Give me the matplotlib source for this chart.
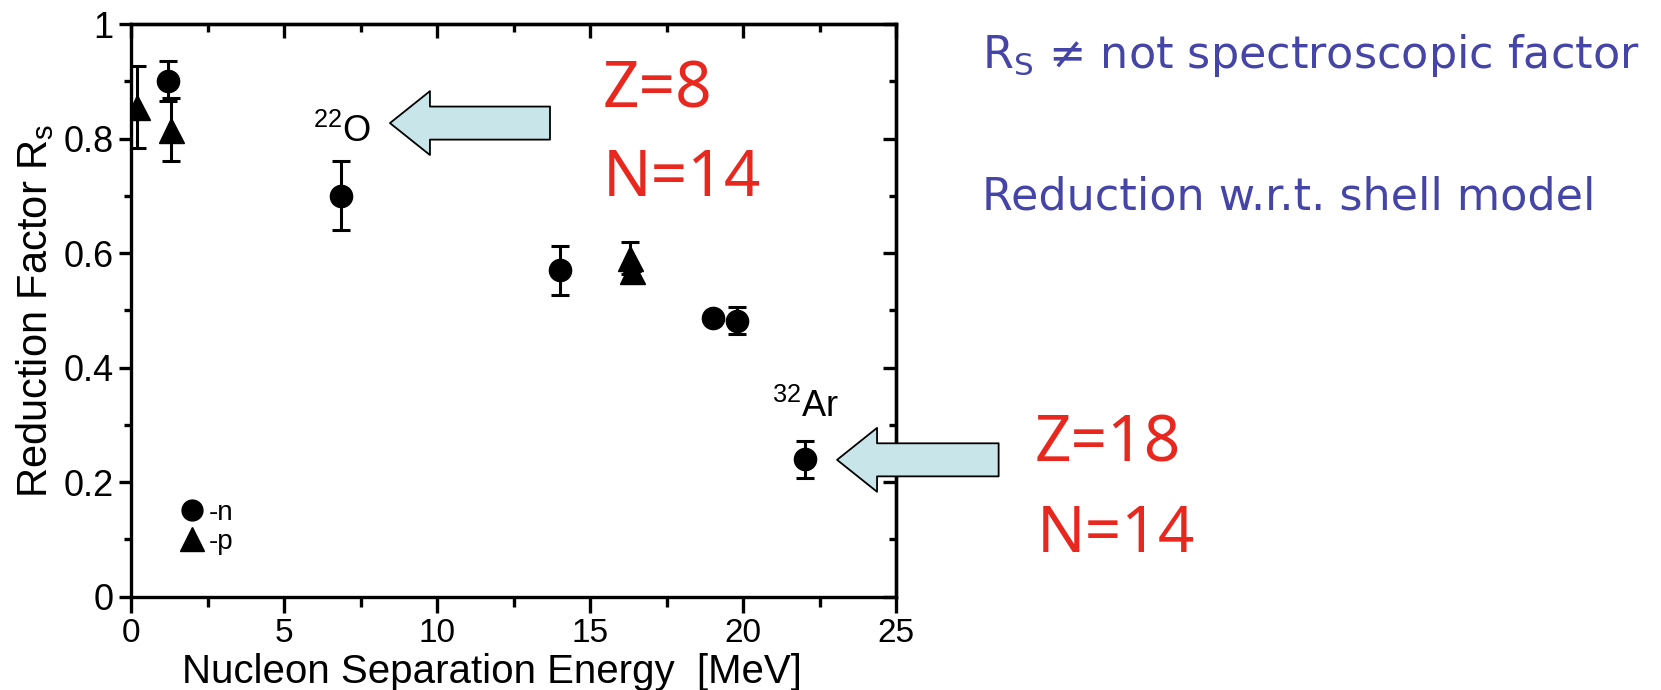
import matplotlib
matplotlib.use("Agg")
import matplotlib.pyplot as plt
from matplotlib.lines import Line2D
from matplotlib.patches import ArrowStyle
from matplotlib.ticker import MultipleLocator, FixedLocator, FixedFormatter


# -----------------------------
# Data
# -----------------------------
# neutron removal (circles)
n_energy = [1.22, 6.87, 14.03, 19.03, 19.79, 22.03]
n_rs = [0.90, 0.70, 0.57, 0.487, 0.482, 0.24]
n_err = [0.035, 0.06, 0.043, 0.0, 0.023, 0.032]

# proton removal (triangles)
p_energy = [0.2, 1.32, 16.3, 16.36]
p_rs = [0.855, 0.815, 0.592, 0.568]
p_err = [0.072, 0.055, 0.028, 0.0]

y_ticks = [0, 0.2, 0.4, 0.6, 0.8, 1.0]
y_ticklabels = ["0", "0.2", "0.4", "0.6", "0.8", "1"]
x_ticks = [0, 5, 10, 15, 20, 25]

# nucleus labels and arrows (data coords)
nuclei = [r"$\mathregular{^{22}O}$", r"$\mathregular{^{32}Ar}$"]
nuclei_pos = [(5.95, 0.794), (20.95, 0.314)]
arrow_tips = [(8.46, 0.827), (23.07, 0.239)]
arrow_tails = [(13.69, 0.827), (28.35, 0.239)]

RED = "#E8281E"
BLUE = "#4545A8"
ARROW_FILL = "#C8E6EA"
FONT = ["Liberation Sans", "DejaVu Sans"]


def main():
    plt.rcParams["font.family"] = FONT
    plt.rcParams["axes.linewidth"] = 2.4

    fig = plt.figure(figsize=(16.61, 6.90), dpi=100)
    ax = fig.add_axes([0.0789, 0.1352, 0.4606, 0.830])

    ax.errorbar(n_energy, n_rs, yerr=n_err, fmt="o", color="black",
                ms=16, elinewidth=2.2, capsize=6.5, capthick=2.2, zorder=3)
    ax.errorbar(p_energy, p_rs, yerr=p_err, fmt="^", color="black",
                ms=18, elinewidth=2.2, capsize=6.5, capthick=2.2, zorder=3)

    ax.set_xlim(0, 25)
    ax.set_ylim(0, 1)

    ax.xaxis.set_major_locator(FixedLocator(x_ticks))
    ax.xaxis.set_minor_locator(MultipleLocator(2.5))
    ax.yaxis.set_major_locator(FixedLocator(y_ticks))
    ax.yaxis.set_major_formatter(FixedFormatter(y_ticklabels))
    ax.yaxis.set_minor_locator(MultipleLocator(0.1))

    ax.tick_params(which="both", direction="out", top=False, right=False,
                   width=2.4)
    ax.tick_params(axis="x", which="major", length=11.5, pad=4, labelsize=24)
    ax.tick_params(axis="x", which="minor", length=7)
    ax.tick_params(axis="y", which="major", length=9, pad=3.5, labelsize=26)
    ax.tick_params(axis="y", which="minor", length=5)

    # inward ticks on the top and right sides
    secx = ax.secondary_xaxis("top")
    secx.xaxis.set_major_locator(FixedLocator(x_ticks))
    secx.xaxis.set_minor_locator(MultipleLocator(2.5))
    secx.tick_params(which="both", direction="in", labeltop=False, width=2.4)
    secx.tick_params(which="major", length=10)
    secx.tick_params(which="minor", length=6)
    secy = ax.secondary_yaxis("right")
    secy.yaxis.set_major_locator(FixedLocator(y_ticks))
    secy.yaxis.set_minor_locator(MultipleLocator(0.1))
    secy.tick_params(which="both", direction="in", labelright=False, width=2.4)
    secy.tick_params(which="major", length=9.5)
    secy.tick_params(which="minor", length=5)

    ax.set_xlabel("Nucleon Separation Energy  [MeV]", fontsize=29)
    ax.set_ylabel(r"Reduction Factor R$\mathregular{_s}$", fontsize=30)
    ax.xaxis.set_label_coords(0.472, -0.0975)
    ax.yaxis.set_label_coords(-0.098, 0.5)

    # legend
    handles = [
        Line2D([], [], marker="o", ls="none", color="black", ms=15),
        Line2D([], [], marker="^", ls="none", color="black", ms=17),
    ]
    ax.legend(handles, ["-n", "-p"], loc="lower left",
              bbox_to_anchor=(0.062, 0.073), frameon=False, fontsize=20,
              handlelength=1.0, handletextpad=0.1, labelspacing=0.1,
              borderpad=0, borderaxespad=0)

    # nucleus labels + arrows
    for lab, (x, y) in zip(nuclei, nuclei_pos):
        ax.text(x, y, lab, fontsize=26, ha="left", va="baseline")
    style = ArrowStyle.Simple(head_length=28.8, head_width=46, tail_width=23.8)
    for tip, tail in zip(arrow_tips, arrow_tails):
        ax.annotate("", xy=tip, xytext=tail, xycoords="data",
                    textcoords="data", annotation_clip=False,
                    arrowprops=dict(arrowstyle=style, mutation_scale=1,
                                    fc=ARROW_FILL, ec="black", lw=1.3,
                                    shrinkA=0, shrinkB=0), zorder=4)

    # red Z / N labels
    red_kw = dict(color=RED, fontsize=46, family=["Noto Sans", "DejaVu Sans"],
                  ha="left", va="baseline")
    fig.text(603 / 1661, 1 - 107 / 690, "Z=8", **red_kw)
    fig.text(603 / 1661, 1 - 196 / 690, "N=14", **red_kw)
    fig.text(1035 / 1661, 1 - 462 / 690, "Z=18", **red_kw)
    fig.text(1037 / 1661, 1 - 552 / 690, "N=14", **red_kw)

    # blue notes
    blue_kw = dict(color=BLUE, fontsize=32, family=["DejaVu Sans"],
                   ha="left", va="baseline")
    fig.text(982 / 1661, 1 - 68 / 690,
             r"R$\mathregular{_S}$ ≠ not spectroscopic factor", **blue_kw)
    fig.text(982 / 1661, 1 - 209 / 690,
             "Reduction w.r.t. shell model", **blue_kw)

    fig.savefig("out.png", dpi=100)
    plt.close(fig)


if __name__ == "__main__":
    main()
